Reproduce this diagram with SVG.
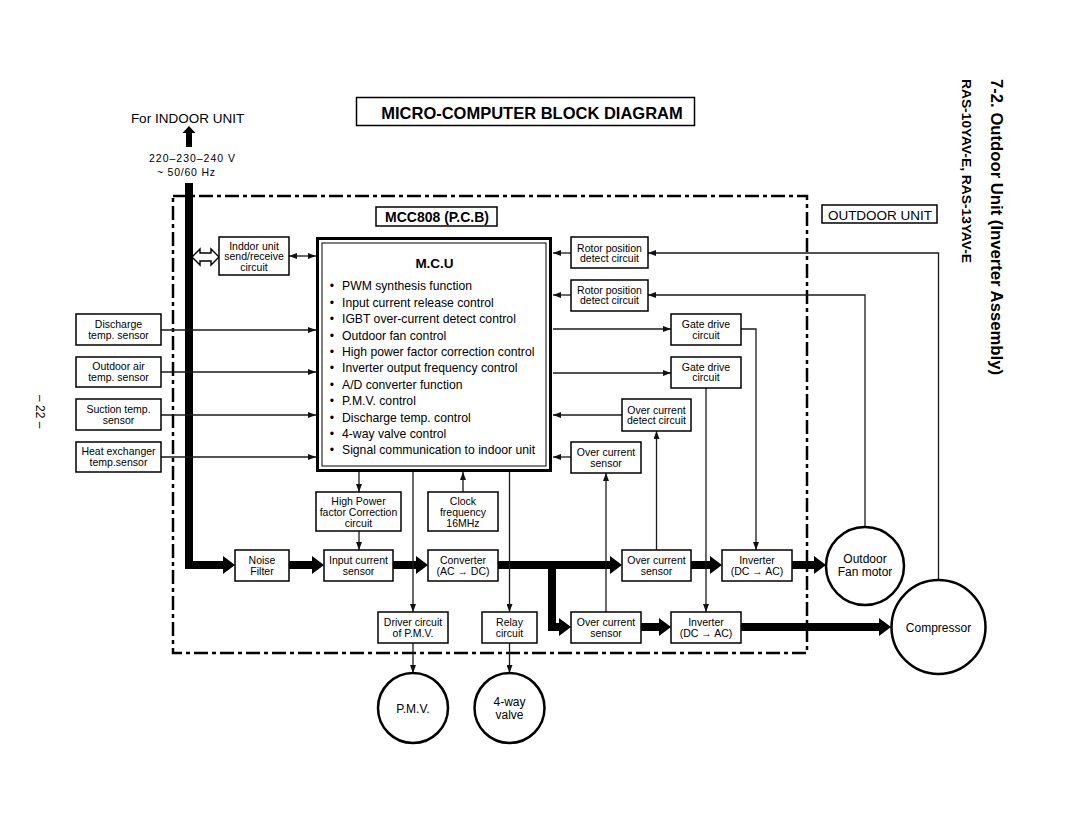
<svg xmlns="http://www.w3.org/2000/svg" width="1080" height="834" viewBox="0 0 1080 834">
<style>
text{font-family:"Liberation Sans",Arial,Helvetica,sans-serif;fill:#000}
.bx{fill:#fff;stroke:#000;stroke-width:1.5}
.t{font-size:10.5px;text-anchor:middle}
.b{font-size:12.2px}
.c{fill:none;stroke:#1a1a1a;stroke-width:1.3}
.k{fill:none;stroke:#000;stroke-width:8;stroke-linejoin:miter}
.ci{fill:#fff;stroke:#000;stroke-width:2.5}
.ct{font-size:12px;text-anchor:middle}
</style>
<defs>
<marker id="a" markerUnits="userSpaceOnUse" viewBox="0 0 8 6" markerWidth="8" markerHeight="6" refX="8" refY="3" orient="auto-start-reverse"><path d="M0,0 L8,3 L0,6 z" fill="#111"/></marker>
<marker id="K" markerUnits="userSpaceOnUse" viewBox="0 0 12 18" markerWidth="12" markerHeight="18" refX="1" refY="9" orient="auto"><path d="M0,0 L12,9 L0,18 z" fill="#000"/></marker>
</defs>
<rect width="1080" height="834" fill="#fff"/>

<g id="page-texts">
<text x="0" y="0" transform="translate(991,79) rotate(90)" font-size="16" font-weight="bold" textLength="296" lengthAdjust="spacingAndGlyphs">7-2.  Outdoor Unit (Inverter Assembly)</text>
<text x="0" y="0" transform="translate(962,79) rotate(90)" font-size="13.4" font-weight="bold" textLength="184" lengthAdjust="spacingAndGlyphs">RAS-10YAV-E, RAS-13YAV-E</text>
<text x="0" y="0" transform="translate(36,395) rotate(90)" font-size="12">– 22 –</text>
</g>

<g id="title">
<rect x="356.5" y="97.5" width="338" height="28" fill="#fff" stroke="#000" stroke-width="1.5"/>
<text x="532" y="119" font-size="16.5" font-weight="bold" text-anchor="middle">MICRO-COMPUTER BLOCK DIAGRAM</text>
</g>

<g id="indoor-supply">
<text x="187.5" y="123" font-size="13.5" text-anchor="middle">For INDOOR UNIT</text>
<polygon points="186,147 192,147 192,133 195.5,133 189,126 182.5,133 186,133" fill="#000"/>
<text x="192" y="161.5" font-size="10.5" text-anchor="middle" textLength="86" lengthAdjust="spacing">220–230–240 V</text>
<text x="186" y="175.5" font-size="10.5" text-anchor="middle" textLength="58" lengthAdjust="spacing">~ 50/60 Hz</text>
</g>

<g id="outdoor-unit-border">
<rect x="173" y="196" width="634" height="457" fill="none" stroke="#000" stroke-width="2.5" stroke-dasharray="14 4 4 4"/>
</g>

<g id="outdoor-unit-label">
<rect x="822" y="205" width="115" height="18" class="bx"/>
<text x="880" y="219.5" font-size="13.5" text-anchor="middle">OUTDOOR UNIT</text>
</g>

<g id="pcb-label">
<rect x="376" y="207" width="121" height="19" class="bx"/>
<text x="437" y="222" font-size="14" font-weight="bold" text-anchor="middle">MCC808 (P.C.B)</text>
</g>

<g id="connectors">
<path class="k" d="M189,183 V565 H224" marker-end="url(#K)"/>
<path class="k" d="M289,565 H313" marker-end="url(#K)"/>
<path class="k" d="M393,565 H417" marker-end="url(#K)"/>
<path class="k" d="M498,565 H611" marker-end="url(#K)"/>
<path class="k" d="M552,565 V627 H560" marker-end="url(#K)"/>
<path class="k" d="M691,565 H711" marker-end="url(#K)"/>
<path class="k" d="M792,565 H815" marker-end="url(#K)"/>
<path class="k" d="M641,627 H660" marker-end="url(#K)"/>
<path class="k" d="M741,627 H880" marker-end="url(#K)"/>
<path d="M192,257 L200,249 L200,253 L211,253 L211,249 L219,257 L211,265 L211,261 L200,261 L200,265 Z" fill="#fff" stroke="#000" stroke-width="1.4"/>
<path class="c" d="M289,256 H316" marker-start="url(#a)" marker-end="url(#a)"/>
<path class="c" d="M161,330 H316" marker-end="url(#a)"/>
<path class="c" d="M161,372 H316" marker-end="url(#a)"/>
<path class="c" d="M161,415 H316" marker-end="url(#a)"/>
<path class="c" d="M161,457 H316" marker-end="url(#a)"/>
<path class="c" d="M571,253 H553" marker-end="url(#a)"/>
<path class="c" d="M938.5,580 V253 H648" marker-end="url(#a)"/>
<path class="c" d="M571,295 H553" marker-end="url(#a)"/>
<path class="c" d="M865,527 V295 H648" marker-end="url(#a)"/>
<path class="c" d="M553,329 H671" marker-end="url(#a)"/>
<path class="c" d="M741,329 H756 V550" marker-end="url(#a)"/>
<path class="c" d="M553,373 H671" marker-end="url(#a)"/>
<path class="c" d="M706,388 V612" marker-end="url(#a)"/>
<path class="c" d="M622,415 H553" marker-end="url(#a)"/>
<path class="c" d="M656.5,550 V431" marker-end="url(#a)"/>
<path class="c" d="M571,457 H553" marker-end="url(#a)"/>
<path class="c" d="M606,612 V473" marker-end="url(#a)"/>
<path class="c" d="M359,472 V492" marker-end="url(#a)"/>
<path class="c" d="M359,531 V550" marker-end="url(#a)"/>
<path class="c" d="M463,492 V472" marker-end="url(#a)"/>
<path class="c" d="M413,472 V612" marker-end="url(#a)"/>
<path class="c" d="M509.5,472 V612" marker-end="url(#a)"/>
<path class="c" d="M413,643 V673" marker-end="url(#a)"/>
<path class="c" d="M509.5,643 V673" marker-end="url(#a)"/>
</g>

<g id="mcu">
<rect x="317.5" y="238.5" width="233" height="232" fill="#fff" stroke="#000" stroke-width="3"/>
<rect x="322" y="243" width="224" height="223" fill="none" stroke="#000" stroke-width="1"/>
<text x="434.5" y="268" font-size="13.5" font-weight="bold" text-anchor="middle">M.C.U</text>
<g class="b">
<text x="332" y="290.3" text-anchor="middle">•</text><text x="342" y="290.3">PWM synthesis function</text>
<text x="332" y="306.7" text-anchor="middle">•</text><text x="342" y="306.7">Input current release control</text>
<text x="332" y="323.1" text-anchor="middle">•</text><text x="342" y="323.1">IGBT over-current detect control</text>
<text x="332" y="339.5" text-anchor="middle">•</text><text x="342" y="339.5">Outdoor fan control</text>
<text x="332" y="355.9" text-anchor="middle">•</text><text x="342" y="355.9">High power factor correction control</text>
<text x="332" y="372.3" text-anchor="middle">•</text><text x="342" y="372.3">Inverter output frequency control</text>
<text x="332" y="388.7" text-anchor="middle">•</text><text x="342" y="388.7">A/D converter function</text>
<text x="332" y="405.1" text-anchor="middle">•</text><text x="342" y="405.1">P.M.V. control</text>
<text x="332" y="421.5" text-anchor="middle">•</text><text x="342" y="421.5">Discharge temp. control</text>
<text x="332" y="437.9" text-anchor="middle">•</text><text x="342" y="437.9">4-way valve control</text>
<text x="332" y="454.3" text-anchor="middle">•</text><text x="342" y="454.3">Signal communication to indoor unit</text>
</g>
</g>

<g id="indoor-send-receive">
<rect x="219" y="237" width="70" height="38" class="bx"/>
<text class="t" x="254" y="249.7">Inddor unit</text>
<text class="t" x="254" y="260.2">send/receive</text>
<text class="t" x="254" y="270.7">circuit</text>
</g>

<g id="discharge-sensor">
<rect x="76" y="314" width="85" height="31" class="bx"/>
<text class="t" x="118.5" y="328.4">Discharge</text>
<text class="t" x="118.5" y="339.4">temp. sensor</text>
</g>
<g id="outdoor-air-sensor">
<rect x="76" y="357" width="85" height="30" class="bx"/>
<text class="t" x="118.5" y="370.4">Outdoor air</text>
<text class="t" x="118.5" y="381.1">temp. sensor</text>
</g>
<g id="suction-sensor">
<rect x="76" y="399" width="85" height="31" class="bx"/>
<text class="t" x="118.5" y="413">Suction temp.</text>
<text class="t" x="118.5" y="424">sensor</text>
</g>
<g id="heat-exchanger-sensor">
<rect x="76" y="442" width="85" height="30" class="bx"/>
<text class="t" x="118.5" y="455.4">Heat exchanger</text>
<text class="t" x="118.5" y="466">temp.sensor</text>
</g>

<g id="rotor-position-1">
<rect x="571" y="237" width="77" height="31" class="bx"/>
<text class="t" x="609.5" y="251.7">Rotor position</text>
<text class="t" x="609.5" y="261.7">detect circuit</text>
</g>
<g id="rotor-position-2">
<rect x="571" y="280" width="77" height="31" class="bx"/>
<text class="t" x="609.5" y="294">Rotor position</text>
<text class="t" x="609.5" y="304">detect circuit</text>
</g>
<g id="gate-drive-1">
<rect x="671" y="314" width="70" height="31" class="bx"/>
<text class="t" x="706" y="328">Gate drive</text>
<text class="t" x="706" y="339.4">circuit</text>
</g>
<g id="gate-drive-2">
<rect x="671" y="357" width="70" height="31" class="bx"/>
<text class="t" x="706" y="370.7">Gate drive</text>
<text class="t" x="706" y="381.4">circuit</text>
</g>
<g id="over-current-detect">
<rect x="622" y="399" width="69" height="32" class="bx"/>
<text class="t" x="656.5" y="413.7">Over current</text>
<text class="t" x="656.5" y="424">detect circuit</text>
</g>
<g id="over-current-sensor-mcu">
<rect x="571" y="442" width="70" height="31" class="bx"/>
<text class="t" x="606" y="456">Over current</text>
<text class="t" x="606" y="466.7">sensor</text>
</g>

<g id="hpfc">
<rect x="316" y="492" width="85" height="39" class="bx"/>
<text class="t" x="358.5" y="504.7">High Power</text>
<text class="t" x="358.5" y="515.7">factor Correction</text>
<text class="t" x="358.5" y="526.7">circuit</text>
</g>
<g id="clock">
<rect x="428" y="492" width="70" height="39" class="bx"/>
<text class="t" x="463" y="504.7">Clock</text>
<text class="t" x="463" y="515.7">frequency</text>
<text class="t" x="463" y="526.7">16MHz</text>
</g>
<g id="noise-filter">
<rect x="235" y="550" width="54" height="31" class="bx"/>
<text class="t" x="262" y="564.4">Noise</text>
<text class="t" x="262" y="574.7">Filter</text>
</g>
<g id="input-current-sensor">
<rect x="324" y="550" width="69" height="31" class="bx"/>
<text class="t" x="358.5" y="564.4">Input current</text>
<text class="t" x="358.5" y="574.7">sensor</text>
</g>
<g id="converter">
<rect x="428" y="550" width="70" height="31" class="bx"/>
<text class="t" x="463" y="564.4">Converter</text>
<text class="t" x="463" y="574.7">(AC → DC)</text>
</g>
<g id="pmv-driver">
<rect x="378" y="612" width="70" height="31" class="bx"/>
<text class="t" x="413" y="626">Driver circuit</text>
<text class="t" x="413" y="637">of P.M.V.</text>
</g>
<g id="relay">
<rect x="482" y="612" width="55" height="31" class="bx"/>
<text class="t" x="509.5" y="626">Relay</text>
<text class="t" x="509.5" y="637">circuit</text>
</g>
<g id="over-current-sensor-fan">
<rect x="622" y="550" width="69" height="31" class="bx"/>
<text class="t" x="656.5" y="564">Over current</text>
<text class="t" x="656.5" y="575">sensor</text>
</g>
<g id="inverter-fan">
<rect x="722" y="550" width="70" height="31" class="bx"/>
<text class="t" x="757" y="564">Inverter</text>
<text class="t" x="757" y="575">(DC → AC)</text>
</g>
<g id="over-current-sensor-comp">
<rect x="571" y="612" width="70" height="31" class="bx"/>
<text class="t" x="606" y="626">Over current</text>
<text class="t" x="606" y="637">sensor</text>
</g>
<g id="inverter-comp">
<rect x="671" y="612" width="70" height="31" class="bx"/>
<text class="t" x="706" y="626">Inverter</text>
<text class="t" x="706" y="637">(DC → AC)</text>
</g>

<g id="pmv">
<circle cx="413" cy="708" r="35" class="ci"/>
<text class="ct" x="413" y="713">P.M.V.</text>
</g>
<g id="four-way-valve">
<circle cx="509.5" cy="708" r="35" class="ci"/>
<text class="ct" x="509.5" y="706">4-way</text>
<text class="ct" x="509.5" y="719">valve</text>
</g>
<g id="outdoor-fan-motor">
<circle cx="865" cy="566" r="39" class="ci"/>
<text class="ct" x="865" y="563">Outdoor</text>
<text class="ct" x="865" y="576">Fan motor</text>
</g>
<g id="compressor">
<circle cx="938.5" cy="627" r="47" class="ci"/>
<text class="ct" x="938.5" y="632">Compressor</text>
</g>
</svg>
